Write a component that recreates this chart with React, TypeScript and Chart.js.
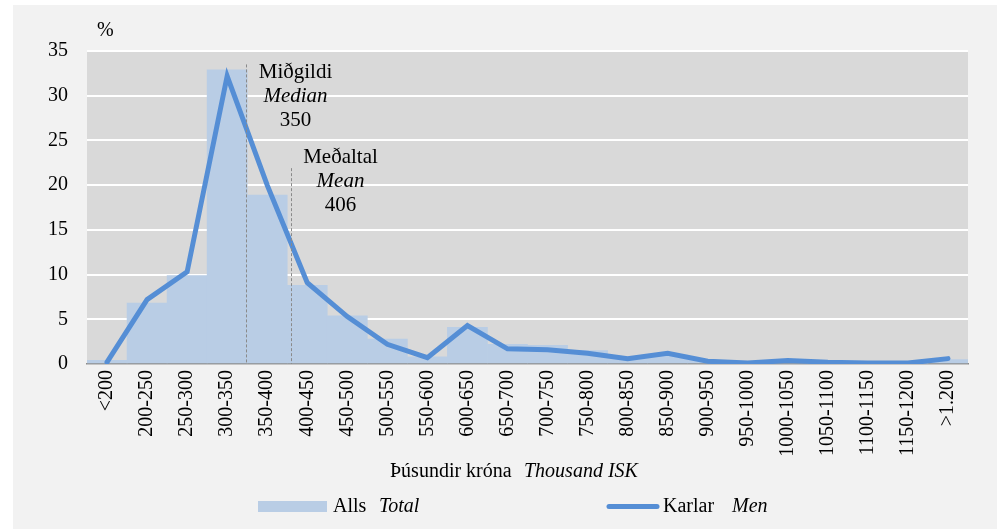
import React, { useEffect, useRef } from "react";
import { Chart, registerables } from "chart.js";

Chart.register(...registerables);

const categories = [
  "<200", "200-250", "250-300", "300-350", "350-400", "400-450", "450-500",
  "500-550", "550-600", "600-650", "650-700", "700-750", "750-800", "800-850",
  "850-900", "900-950", "950-1000", "1000-1050", "1050-1100", "1100-1150",
  "1150-1200", ">1.200",
];

const allsTotal = [
  0.4, 6.8, 9.9, 32.9, 18.9, 8.8, 5.4, 2.8, 0.8, 4.1, 2.2, 2.1, 1.5, 0.8, 1.0,
  0.4, 0.2, 0.4, 0.2, 0.1, 0.1, 0.5,
];

const karlarMen = [
  0.2, 7.2, 10.3, 32.2, 20.0, 9.1, 5.3, 2.2, 0.7, 4.3, 1.7, 1.6, 1.2, 0.6, 1.2,
  0.3, 0.1, 0.4, 0.2, 0.1, 0.1, 0.6,
];

const yMin = 0;
const yMax = 35;
const yStep = 5;

// reference markers (thousand ISK), the top of their dashed line and the label lines
const markerValues = [350, 406];
const markerTops = [33.5, 21.9];
const markerLabelY = [32.6, 23.1];
const markerLabels = [
  ["Miðgildi", "Median", "350"],
  ["Meðaltal", "Mean", "406"],
];

const FONT = "'Liberation Serif', 'Times New Roman', serif";
const BAR_COLOR = "#b9cde5";
const LINE_COLOR = "#558ed5";

const toIndex = (v: number) => (v - 175) / 50;

const overlay = {
  id: "overlay",
  beforeDraw(chart: any) {
    const { ctx, chartArea } = chart;
    ctx.save();
    ctx.fillStyle = "#ffffff";
    ctx.fillRect(0, 0, chart.width, chart.height);
    ctx.fillStyle = "#f2f2f2";
    ctx.fillRect(13, 5, chart.width - 18, chart.height - 5);
    ctx.fillStyle = "#d9d9d9";
    ctx.fillRect(chartArea.left, chartArea.top, chartArea.right - chartArea.left, chartArea.bottom - chartArea.top);
    ctx.restore();
  },
  afterDatasetsDraw(chart: any) {
    const { ctx } = chart;
    const x = chart.scales.x;
    const y = chart.scales.y;
    ctx.save();
    markerValues.forEach((v, i) => {
      const px = Math.round(x.getPixelForValue(toIndex(v))) - 0.5;
      ctx.beginPath();
      ctx.setLineDash([3, 2]);
      ctx.strokeStyle = "#8a8a8a";
      ctx.lineWidth = 1;
      ctx.moveTo(px, y.getPixelForValue(markerTops[i]));
      ctx.lineTo(px, y.getPixelForValue(0));
      ctx.stroke();
      ctx.setLineDash([]);
      ctx.fillStyle = "#000";
      ctx.textAlign = "center";
      ctx.textBaseline = "middle";
      const cy = y.getPixelForValue(markerLabelY[i]);
      markerLabels[i].forEach((t, k) => {
        ctx.font = (k === 1 ? "italic " : "") + "21px " + FONT;
        ctx.fillText(t, px + 49, cy + k * 24);
      });
    });
    ctx.restore();
  },
  afterDraw(chart: any) {
    const { ctx, chartArea } = chart;
    ctx.save();
    ctx.fillStyle = "#000";
    ctx.textBaseline = "middle";
    ctx.textAlign = "left";
    ctx.font = "20px " + FONT;
    ctx.fillText("%", chartArea.left + 10, 31);

    // x axis title
    ctx.font = "20px " + FONT;
    ctx.fillText("Þúsundir króna", 390, 472);
    ctx.font = "italic 20px " + FONT;
    ctx.fillText("Thousand ISK", 524, 472);

    // legend
    ctx.fillStyle = BAR_COLOR;
    ctx.fillRect(258, 501, 69, 11);
    ctx.fillStyle = "#000";
    ctx.font = "20px " + FONT;
    ctx.fillText("Alls", 333, 507);
    ctx.font = "italic 20px " + FONT;
    ctx.fillText("Total", 379, 507);

    ctx.beginPath();
    ctx.strokeStyle = LINE_COLOR;
    ctx.lineWidth = 5;
    ctx.lineCap = "round";
    ctx.moveTo(609, 506.5);
    ctx.lineTo(657, 506.5);
    ctx.stroke();
    ctx.font = "20px " + FONT;
    ctx.fillText("Karlar", 663, 507);
    ctx.font = "italic 20px " + FONT;
    ctx.fillText("Men", 732, 507);
    ctx.restore();
  },
};

export default function App() {
  const ref = useRef<HTMLCanvasElement>(null);

  useEffect(() => {
    if (!ref.current) return;
    const chart = new Chart(ref.current, {
      type: "bar",
      data: {
        labels: categories,
        datasets: [
          {
            type: "line",
            label: "Karlar Men",
            data: karlarMen,
            borderColor: LINE_COLOR,
            backgroundColor: LINE_COLOR,
            borderWidth: 5,
            pointRadius: 0,
            tension: 0,
            borderJoinStyle: "miter",
            borderCapStyle: "round",
            order: 0,
          } as any,
          {
            type: "bar",
            label: "Alls Total",
            data: allsTotal,
            backgroundColor: BAR_COLOR,
            borderWidth: 0,
            barPercentage: 1,
            categoryPercentage: 1,
            order: 1,
          },
        ],
      },
      options: {
        responsive: false,
        animation: false,
        devicePixelRatio: 1,
        layout: { padding: { top: 51, right: 34, left: 0, bottom: 0 } },
        plugins: {
          legend: { display: false },
          tooltip: { enabled: false },
          title: { display: false },
        },
        scales: {
          x: {
            z: 1,
            grid: { display: false, drawTicks: false },
            border: { display: true, color: "#8c8c8c", width: 1.5 },
            ticks: {
              autoSkip: false,
              minRotation: 90,
              maxRotation: 90,
              padding: 6,
              color: "#000",
              font: { family: FONT, size: 20 },
            },
            afterFit: (s: any) => {
              s.height = 165;
            },
          },
          y: {
            min: yMin,
            max: yMax,
            grid: { color: "#ffffff", lineWidth: 2, drawTicks: false },
            border: { display: false },
            ticks: {
              stepSize: yStep,
              padding: 19,
              color: "#000",
              font: { family: FONT, size: 20 },
            },
            afterFit: (s: any) => {
              s.width = 87;
            },
          },
        },
      },
      plugins: [overlay],
    });
    return () => chart.destroy();
  }, []);

  return (
    <div style={{ position: "fixed", left: 0, top: 0, width: 1002, height: 529, background: "#fff" }}>
      <canvas ref={ref} width={1002} height={529} style={{ display: "block", width: 1002, height: 529 }} />
    </div>
  );
}
